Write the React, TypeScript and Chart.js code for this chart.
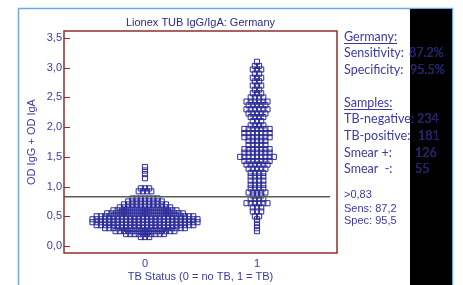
import { useEffect, useRef } from 'react';
import { Chart, registerables } from 'chart.js';

Chart.register(...registerables);

// ---- data ----
const groupCategories = [0, 1];
const groupLabels = ['0', '1'];
const yTickValues = [0, 0.5, 1, 1.5, 2, 2.5, 3, 3.5];
const cutoffValue = 0.83;
const cutoffStart = -0.723;
const cutoffEnd = 1.652;

// TB-negative (group 0): OD levels and how many samples sit at each level
const negLevels = [1.33, 1.27, 1.21, 1.14, 0.97, 0.92, 0.85, 0.8, 0.75, 0.7, 0.65, 0.6, 0.55, 0.5, 0.45, 0.4, 0.35, 0.3, 0.25, 0.2, 0.15];
const negCounts = [1, 1, 1, 1, 3, 4, 0, 7, 9, 11, 13, 16, 19, 24, 26, 26, 24, 20, 15, 10, 3];

// TB-positive (group 1)
const posLevels = [3.1, 3.03, 2.97, 2.9, 2.83, 2.77, 2.7, 2.63, 2.57, 2.5, 2.43, 2.37, 2.3, 2.23, 2.17, 2.1, 2.03, 1.97, 1.9, 1.83, 1.77, 1.7, 1.63, 1.57, 1.5, 1.43, 1.37, 1.3, 1.23, 1.17, 1.1, 1.03, 0.97, 0.9, 0.85, 0.79, 0.72, 0.65, 0.58, 0.5, 0.45, 0.4, 0.35, 0.3, 0.25];
const posCounts = [1, 2, 3, 2, 3, 2, 3, 2, 3, 4, 6, 5, 6, 5, 4, 3, 4, 7, 7, 7, 5, 5, 7, 7, 9, 7, 6, 5, 4, 4, 4, 4, 4, 5, 3, 4, 6, 3, 3, 2, 1, 1, 1, 1, 1];

const chartTitle = 'Lionex TUB IgG/IgA: Germany';
const xAxisTitle = 'TB Status (0 = no TB, 1 = TB)';
const yAxisTitle = 'OD IgG + OD IgA';

const infoHeader = 'Germany:';
const infoRows = [
  ['Sensitivity:', '87.2%'],
  ['Specificity:', '95.5%'],
];
const sampleHeader = 'Samples:';
const sampleRows = [
  ['TB-negative:', '234'],
  ['TB-positive:', '181'],
  ['Smear +:', '126'],
  ['Smear  -:', '55'],
];
const cutoffNotes = ['>0,83', 'Sens: 87,2', 'Spec: 95,5'];

// ---- dot-plot layout ----
const DOT_STEP = 0.0375;
function dots(center: number, levels: number[], counts: number[]) {
  const out: { x: number; y: number }[] = [];
  levels.forEach((lv, i) => {
    const n = counts[i];
    for (let k = 0; k < n; k++) {
      out.push({ x: center + (k - (n - 1) / 2) * DOT_STEP, y: lv });
    }
  });
  return out;
}

const BLUE = '#3a3aa6';
const NAVY = '#2a2a8c';
const FRAME = '#8e2f2f';
const SANS = '"Liberation Sans", Arial, sans-serif';
const CAL = 'Lato, "Open Sans", sans-serif';

const decor = {
  id: 'decor',
  afterDraw(chart: any) {
    const { ctx, chartArea: a, scales } = chart;
    const ys = scales.y;
    ctx.save();
    // outer light-blue frame
    ctx.strokeStyle = '#6aaae6';
    ctx.lineWidth = 1.5;
    ctx.beginPath();
    ctx.moveTo(18.5, 290);
    ctx.lineTo(18.5, 8.5);
    ctx.lineTo(452.5, 8.5);
    ctx.lineTo(452.5, 290);
    ctx.stroke();

    // plot frame
    ctx.strokeStyle = FRAME;
    ctx.lineWidth = 1.5;
    ctx.strokeRect(a.left, a.top, a.right - a.left, a.bottom - a.top);
    // inward y ticks
    ctx.lineWidth = 1;
    yTickValues.forEach((v) => {
      const y = Math.round(ys.getPixelForValue(v)) + 0.5;
      ctx.beginPath();
      ctx.moveTo(a.left, y);
      ctx.lineTo(a.left + 6, y);
      ctx.stroke();
    });

    // titles
    ctx.fillStyle = NAVY;
    ctx.font = `11px ${SANS}`;
    ctx.textAlign = 'center';
    ctx.textBaseline = 'middle';
    ctx.fillText(chartTitle, (a.left + a.right) / 2, 22.5);
    ctx.fillStyle = BLUE;
    ctx.fillText(xAxisTitle, (a.left + a.right) / 2, 276.5);
    ctx.save();
    ctx.translate(32, (a.top + a.bottom) / 2);
    ctx.rotate(-Math.PI / 2);
    ctx.fillText(yAxisTitle, 0, 0);
    ctx.restore();

    // black block
    ctx.fillStyle = '#000';
    ctx.fillRect(410, 9, 42, 280);

    const drawInfo = (color: string) => {
      ctx.fillStyle = color;
      ctx.strokeStyle = color;
      ctx.textAlign = 'left';
      ctx.textBaseline = 'middle';
      ctx.font = `12.5px ${CAL}`;
      ctx.fillText(infoHeader, 344, 37);
      let w = ctx.measureText(infoHeader).width;
      ctx.lineWidth = 1;
      ctx.beginPath();
      ctx.moveTo(344, 43.5);
      ctx.lineTo(344 + w, 43.5);
      ctx.stroke();
      const infoY = [53, 70];
      const infoX = [409, 410];
      infoRows.forEach((r, i) => {
        ctx.fillText(r[0], 344, infoY[i]);
        ctx.fillText(r[1], infoX[i], infoY[i]);
      });
      ctx.fillText(sampleHeader, 344, 103);
      w = ctx.measureText(sampleHeader).width;
      ctx.beginPath();
      ctx.moveTo(344, 109.5);
      ctx.lineTo(344 + w, 109.5);
      ctx.stroke();
      const sy = [119, 136, 153, 169];
      const sx = [417, 418, 415, 415];
      sampleRows.forEach((r, i) => {
        ctx.fillText(r[0], 344, sy[i]);
        ctx.fillText(r[1], sx[i], sy[i]);
      });
    };
    drawInfo(BLUE);
    ctx.save();
    ctx.beginPath();
    ctx.rect(410, 9, 42, 280);
    ctx.clip();
    drawInfo('#23236e');
    ctx.restore();

    ctx.fillStyle = BLUE;
    ctx.font = `11px ${SANS}`;
    ctx.textAlign = 'left';
    const ny = [194.5, 208.5, 220.5];
    cutoffNotes.forEach((t, i) => ctx.fillText(t, 344, ny[i]));
    ctx.restore();
  },
};

export default function App() {
  const ref = useRef<HTMLCanvasElement>(null);
  useEffect(() => {
    if (!ref.current) return;
    const chart = new Chart(ref.current, {
      type: 'scatter',
      data: {
        datasets: [
          {
            type: 'line' as any,
            data: [
              { x: cutoffStart, y: cutoffValue },
              { x: cutoffEnd, y: cutoffValue },
            ],
            borderColor: '#5a5a5a',
            borderWidth: 1.5,
            pointRadius: 0,
            showLine: true,
            order: 0,
          },
          {
            data: dots(groupCategories[0], negLevels, negCounts),
            pointStyle: 'rect',
            pointRadius: 3.6,
            borderWidth: 1,
            borderColor: '#2c2c9a',
            backgroundColor: 'rgba(255,255,255,0)',
            order: 1,
          },
          {
            data: dots(groupCategories[1], posLevels, posCounts),
            pointStyle: 'rect',
            pointRadius: 3.6,
            borderWidth: 1,
            borderColor: '#2c2c9a',
            backgroundColor: 'rgba(255,255,255,0)',
            order: 1,
          },
        ],
      },
      options: {
        animation: false,
        responsive: false,
        events: [],
        layout: { padding: { top: 31, right: 126, bottom: 0, left: 0 } },
        plugins: { legend: { display: false }, title: { display: false }, tooltip: { enabled: false } },
        scales: {
          x: {
            type: 'linear',
            min: -0.7232,
            max: 1.7143,
            afterBuildTicks: (s: any) => {
              s.ticks = groupCategories.map((v) => ({ value: v }));
            },
            afterFit: (s: any) => {
              s.height = 32;
            },
            grid: { display: false, drawTicks: false },
            border: { display: false },
            ticks: {
              padding: 4,
              color: BLUE,
              font: { family: SANS, size: 11 },
              callback: (v: any) => groupLabels[groupCategories.indexOf(Number(v))] ?? '',
            },
          },
          y: {
            type: 'linear',
            min: -0.1178,
            max: 3.6178,
            afterBuildTicks: (s: any) => {
              s.ticks = yTickValues.map((v) => ({ value: v }));
            },
            afterFit: (s: any) => {
              s.width = 64;
            },
            grid: { display: false, drawTicks: false },
            border: { display: false },
            ticks: {
              padding: 2,
              color: BLUE,
              font: { family: SANS, size: 11 },
              callback: (v: any) => Number(v).toFixed(1).replace('.', ','),
            },
          },
        },
      },
      plugins: [decor],
    });
    return () => chart.destroy();
  }, []);
  return (
    <div style={{ position: 'fixed', left: 0, top: 0, width: 463, height: 285, background: '#fff' }}>
      <canvas ref={ref} width={463} height={285} style={{ display: 'block', width: 463, height: 285 }} />
    </div>
  );
}
